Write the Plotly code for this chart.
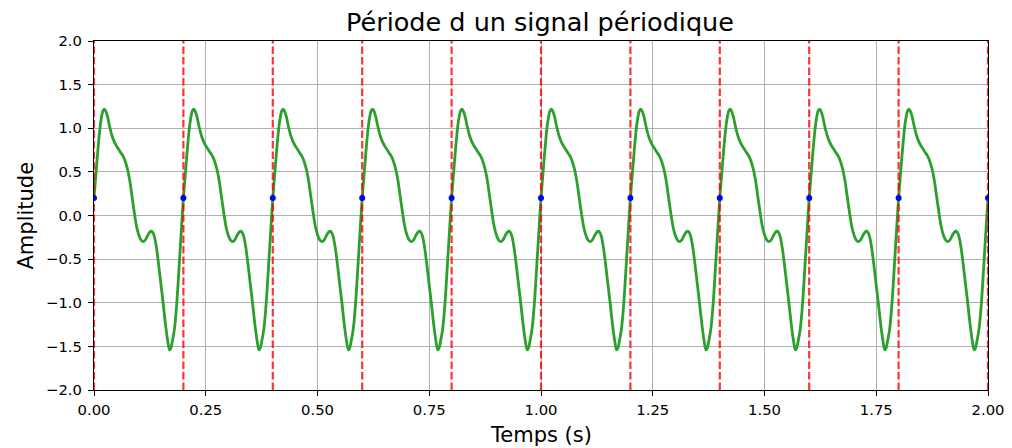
import plotly.graph_objects as go

# ---- data ----
period = 0.2
n_periods = 10
# one period of the signal (time offset within period, amplitude)
period_offsets = [0.000, 0.005, 0.010, 0.015, 0.020, 0.023, 0.025, 0.030, 0.035, 0.040,
                  0.045, 0.050, 0.055, 0.060, 0.065, 0.070, 0.075, 0.080, 0.085, 0.090,
                  0.095, 0.100, 0.105, 0.110, 0.115, 0.120, 0.125, 0.128, 0.131, 0.135,
                  0.140, 0.145, 0.150, 0.155, 0.160, 0.165, 0.169, 0.172, 0.175, 0.180,
                  0.185, 0.190, 0.195]
period_values = [0.20, 0.52, 0.83, 1.07, 1.20, 1.22, 1.21, 1.14, 1.02, 0.92,
                 0.85, 0.80, 0.76, 0.72, 0.68, 0.62, 0.53, 0.40, 0.22, 0.04,
                 -0.12, -0.22, -0.28, -0.30, -0.28, -0.23, -0.19, -0.18, -0.19, -0.24,
                 -0.38, -0.58, -0.80, -1.02, -1.25, -1.44, -1.54, -1.52, -1.45, -1.30,
                 -1.02, -0.62, -0.20]
marker_value = 0.2
x_ticks = [0.00, 0.25, 0.50, 0.75, 1.00, 1.25, 1.50, 1.75, 2.00]
y_ticks = [-2.0, -1.5, -1.0, -0.5, 0.0, 0.5, 1.0, 1.5, 2.0]
title_text = "Période d un signal périodique"
x_label = "Temps (s)"
y_label = "Amplitude"

# ---- build series ----
t_sig, v_sig = [], []
for k in range(n_periods):
    for dt, v in zip(period_offsets, period_values):
        t_sig.append(round(k * period + dt, 6))
        v_sig.append(v)
t_sig.append(round(n_periods * period, 6))
v_sig.append(period_values[0])

starts = [round(k * period, 6) for k in range(n_periods + 1)]

vx, vy = [], []
for s in starts:
    vx += [s, s, None]
    vy += [y_ticks[0], y_ticks[-1], None]

font = "DejaVu Sans"
fig = go.Figure()
fig.add_trace(go.Scatter(x=t_sig, y=v_sig, mode="lines",
                         line=dict(color="#2ca02c", width=2.8, shape="spline", smoothing=0.8),
                         hoverinfo="skip"))
fig.add_trace(go.Scatter(x=vx, y=vy, mode="lines",
                         line=dict(color="rgba(255,0,0,0.8)", width=2.2, dash="7.5px,3px"),
                         hoverinfo="skip"))
fig.add_trace(go.Scatter(x=starts, y=[marker_value] * len(starts), mode="markers",
                         marker=dict(color="#0000ff", size=6), hoverinfo="skip"))

axis_common = dict(showline=True, linecolor="black", linewidth=1.2, mirror=True,
                   ticks="outside", ticklen=5, tickwidth=1.2, tickcolor="black",
                   showgrid=True, gridcolor="#b0b0b0", gridwidth=1.1, zeroline=False,
                   automargin=False,
                   tickfont=dict(family=font, size=14.8, color="black"))

L, R, T, B = 94, 24, 41, 58
W, H = 1012, 448
pw, ph = W - L - R, H - T - B

fig.update_layout(
    width=W, height=H,
    margin=dict(l=L, r=R, t=T, b=B),
    paper_bgcolor="white", plot_bgcolor="white",
    showlegend=False,
    title=dict(text=title_text, x=540 / W, xanchor="center",
               y=1 - 22 / H, yanchor="middle", yref="container",
               font=dict(family=font, size=25.5, color="black")),
    xaxis=dict(range=[0, 2], tickvals=x_ticks, tickformat=".2f", ticklabelstandoff=1,
               **axis_common),
    yaxis=dict(range=[-2, 2], tickvals=y_ticks, tickformat=".1f", ticklabelstandoff=3,
               **axis_common),
    annotations=[
        dict(text=x_label, xref="paper", yref="paper", x=0.5, y=-(435 - (H - B)) / ph,
             xanchor="center", yanchor="middle", showarrow=False,
             font=dict(family=font, size=21, color="black")),
        dict(text=y_label, xref="paper", yref="paper", x=(25 - L) / pw, y=0.5,
             xanchor="center", yanchor="middle", textangle=-90, showarrow=False,
             font=dict(family=font, size=21, color="black")),
    ],
)

fig.write_html("out.html")
